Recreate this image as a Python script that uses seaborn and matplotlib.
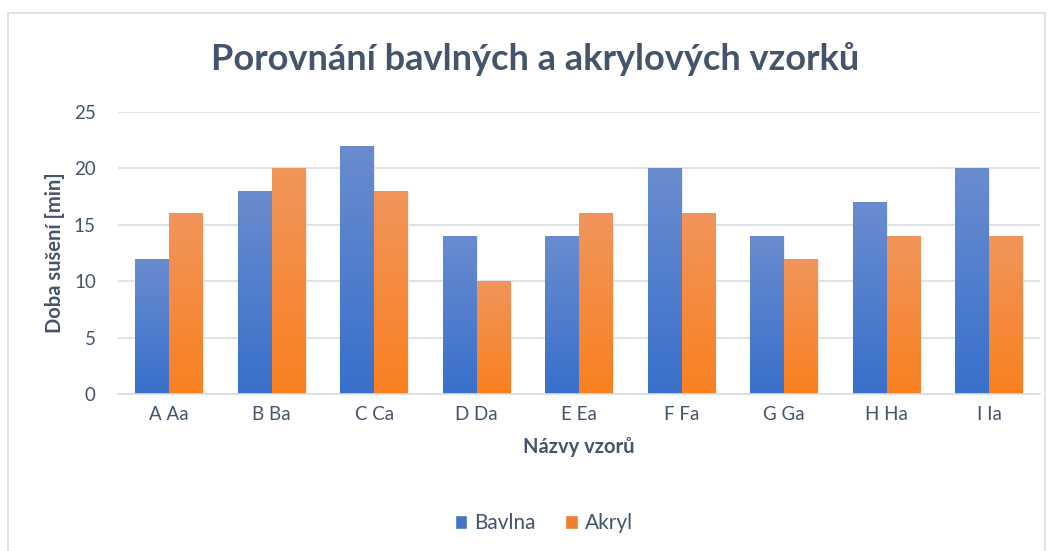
import numpy as np
import pandas as pd
import matplotlib
matplotlib.use("Agg")
import matplotlib.pyplot as plt
from matplotlib.colors import LinearSegmentedColormap
from matplotlib.patches import Rectangle
import seaborn as sns

vzory = ["A Aa", "B Ba", "C Ca", "D Da", "E Ea", "F Fa", "G Ga", "H Ha", "I Ia"]
bavlna = [12, 18, 22, 14, 14, 20, 14, 17, 20]
akryl = [16, 20, 18, 10, 16, 16, 12, 14, 14]
serie = ["Bavlna", "Akryl"]

df = pd.DataFrame({
    "vzor": vzory * 2,
    "doba": bavlna + akryl,
    "material": ["Bavlna"] * len(vzory) + ["Akryl"] * len(vzory),
})

text_color = "#44546a"
barvy = {"Bavlna": "#4472c4", "Akryl": "#ed7d31"}
# gradient: bottom -> top
gradienty = {
    "Bavlna": ("#3870cb", "#6a8ccf"),
    "Akryl": ("#f98020", "#f1955b"),
}

sns.set_theme(style="white")
plt.rcParams["font.family"] = ["Lato", "DejaVu Sans"]

fig = plt.figure(figsize=(10.54, 5.51), dpi=100)
ax = fig.add_axes([0.112, 0.285, 0.875, 0.512])

sns.barplot(data=df, x="vzor", y="doba", hue="material", hue_order=serie,
            palette=barvy, width=0.66, ax=ax, legend=False, saturation=1)

# gradient fill for each bar
for cont, name in zip(ax.containers, serie):
    cmap = LinearSegmentedColormap.from_list(name, gradienty[name])
    for p in cont.patches:
        x0, y0 = p.get_x(), p.get_y()
        w, h = p.get_width(), p.get_height()
        grad = np.linspace(0, 1, 256).reshape(-1, 1)
        im = ax.imshow(grad, cmap=cmap, origin="lower", aspect="auto",
                       extent=[x0, x0 + w, y0, y0 + h], zorder=p.get_zorder())
        im.set_clip_path(p)
        p.set_edgecolor("#ffffff")
        p.set_linewidth(0.8)
        p.set_alpha(0.6)

ax.set_xlim(-0.5, len(vzory) - 0.5)
ax.set_ylim(0, 25)
ax.set_yticks(range(0, 26, 5))
ax.grid(axis="y", color="#d9dde3", linewidth=1.2)
ax.set_axisbelow(True)
for s in ["top", "right", "left"]:
    ax.spines[s].set_visible(False)
ax.spines["bottom"].set_color("#d9dde3")
ax.spines["bottom"].set_linewidth(1.2)
ax.tick_params(axis="both", length=0, labelsize=13.5, colors=text_color, pad=9)
ax.tick_params(axis="y", pad=16)

ax.set_xlabel("Názvy vzorů", fontsize=14.5, fontweight="bold", color=text_color, labelpad=10)
ax.set_ylabel("Doba sušení [min]", fontsize=14.5, fontweight="bold", color=text_color, labelpad=6)

fig.text(0.508, 0.893, "Porovnání bavlných a akrylových vzorků", ha="center", va="center",
         fontsize=26, fontweight="bold", color=text_color)

handles = [Rectangle((0, 0), 1, 1, facecolor=barvy[n]) for n in serie]
fig.legend(handles, serie, loc="center", bbox_to_anchor=(0.516, 0.05), ncol=2,
           frameon=False, fontsize=15, handlelength=0.6, handleheight=0.6,
           handletextpad=0.35, columnspacing=1.4, labelcolor=text_color)

# chart border
fig.patches.append(Rectangle((8 / 1054, -0.05), 1037 / 1054, 1.05 - 13 / 551,
                             transform=fig.transFigure, fill=False,
                             edgecolor="#d9dde3", linewidth=1.2))

fig.savefig("out.png", dpi=100)
